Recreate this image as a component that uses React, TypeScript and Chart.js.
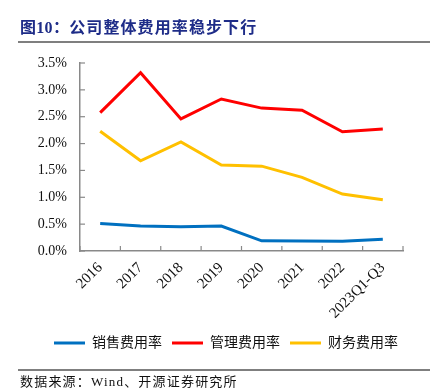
import React, { useEffect, useRef } from "react";
import { Chart, registerables } from "chart.js";

Chart.register(...registerables);

const categories = ["2016", "2017", "2018", "2019", "2020", "2021", "2022", "2023Q1-Q3"];
const salesRate = [0.51, 0.465, 0.45, 0.465, 0.19, 0.186, 0.18, 0.22];
const mgmtRate = [2.575, 3.32, 2.46, 2.83, 2.66, 2.62, 2.22, 2.27];
const finRate = [2.23, 1.68, 2.03, 1.6, 1.58, 1.37, 1.06, 0.955];
const seriesNames = ["销售费用率", "管理费用率", "财务费用率"];
const yMin = 0;
const yMax = 3.5;
const yStep = 0.5;

const AXIS_COLOR = "#898989";
const FONT_FAMILY = "'Times New Roman', 'Liberation Serif', 'Noto Sans CJK SC', serif";

const innerTicks = {
  id: "innerTicks",
  afterDraw(chart: any) {
    const { ctx, chartArea, scales } = chart;
    const xs = scales.x;
    const ys = scales.y;
    ctx.save();
    ctx.strokeStyle = AXIS_COLOR;
    ctx.lineWidth = 1.2;
    ys.ticks.forEach((_t: any, i: number) => {
      const py = ys.getPixelForTick(i);
      ctx.beginPath();
      ctx.moveTo(chartArea.left, py);
      ctx.lineTo(chartArea.left + 5, py);
      ctx.stroke();
    });
    const n = xs.ticks.length;
    for (let i = 0; i <= n; i++) {
      const px = xs.getPixelForValue(i - 0.5);
      ctx.beginPath();
      ctx.moveTo(px, chartArea.bottom);
      ctx.lineTo(px, chartArea.bottom - 5);
      ctx.stroke();
    }
    ctx.restore();
  },
};

export default function App() {
  const canvasRef = useRef<HTMLCanvasElement | null>(null);

  useEffect(() => {
    if (!canvasRef.current) return;
    const colors = ["#0070C0", "#FF0000", "#FFC000"];
    const values = [salesRate, mgmtRate, finRate];
    const chart = new Chart(canvasRef.current, {
      type: "line",
      data: {
        labels: categories,
        datasets: seriesNames.map((name, i) => ({
          label: name,
          data: values[i],
          borderColor: colors[i],
          backgroundColor: colors[i],
          borderWidth: 3,
          pointRadius: 0,
          tension: 0,
          fill: false,
          yAxisID: "y",
        })),
      },
      options: {
        responsive: false,
        animation: false,
        devicePixelRatio: 1,
        layout: { padding: { left: 11, right: 0, top: 63, bottom: 32 } },
        plugins: {
          tooltip: { enabled: false },
          legend: {
            position: "bottom",
            labels: {
              boxWidth: 31,
              boxHeight: 3,
              padding: 10,
              color: "#111",
              font: { family: FONT_FAMILY, size: 14 },
              generateLabels: (c: any) =>
                (Chart.defaults.plugins.legend.labels as any)
                  .generateLabels(c)
                  .map((l: any) => ({ ...l, lineWidth: 0 })),
            },
          },
        },
        scales: {
          x: {
            type: "category",
            offset: true,
            grid: { display: true, drawOnChartArea: false, drawTicks: false, offset: true },
            border: { display: true, color: AXIS_COLOR, width: 1.5 },
            ticks: {
              autoSkip: false,
              minRotation: 45,
              maxRotation: 45,
              padding: 8,
              color: "#111",
              font: { family: FONT_FAMILY, size: 15 },
            },
            afterFit: (axis: any) => {
              axis.height = 75;
            },
          },
          y: {
            position: "left",
            min: yMin,
            max: yMax,
            grid: { display: true, drawOnChartArea: false, drawTicks: false },
            border: { display: true, color: AXIS_COLOR, width: 1.5 },
            ticks: {
              stepSize: yStep,
              padding: 13,
              color: "#111",
              font: { family: FONT_FAMILY, size: 14 },
              callback: (v: any) => Number(v).toFixed(1) + "%",
            },
            afterFit: (axis: any) => {
              axis.width = 69;
            },
          },
          yRight: {
            position: "right",
            min: 0,
            max: 1,
            grid: { display: false },
            border: { display: false },
            ticks: { display: false },
            afterFit: (axis: any) => {
              axis.width = 38;
            },
          },
        },
      },
      plugins: [innerTicks],
    } as any);
    return () => chart.destroy();
  }, []);

  const titleFont = "'Times New Roman', 'Liberation Serif', 'Noto Sans CJK SC', serif";

  return (
    <div
      style={{
        position: "absolute",
        left: 0,
        top: 0,
        width: 441,
        height: 392,
        background: "#fff",
        overflow: "hidden",
      }}
    >
      <canvas ref={canvasRef} width={441} height={392} style={{ position: "absolute", left: 0, top: 0 }} />
      <div
        style={{
          position: "absolute",
          left: 20,
          top: 19,
          fontFamily: titleFont,
          fontWeight: "bold",
          fontSize: 16,
          lineHeight: "18px",
          color: "#1e2c88",
          whiteSpace: "nowrap",
        }}
      >
        <span style={{ letterSpacing: "0.3px" }}>图10：</span>
        <span style={{ letterSpacing: "1.1px" }}>公司整体费用率稳步下行</span>
      </div>
      <div style={{ position: "absolute", left: 18, top: 41, width: 412, height: 2, background: "#7f7f7f" }} />
      <div style={{ position: "absolute", left: 18, top: 369, width: 412, height: 2, background: "#7f7f7f" }} />
      <div
        style={{
          position: "absolute",
          left: 20,
          top: 374,
          fontFamily: titleFont,
          fontSize: 13,
          lineHeight: "15px",
          letterSpacing: "1.2px",
          color: "#111",
          whiteSpace: "nowrap",
        }}
      >
        数据来源：Wind、开源证券研究所
      </div>
    </div>
  );
}
